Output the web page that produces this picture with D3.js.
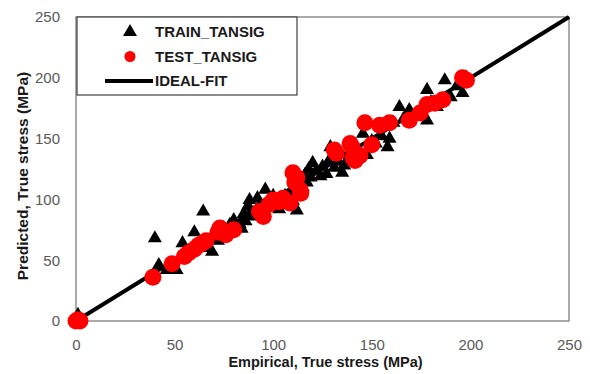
<!DOCTYPE html>
<html>
<head>
<meta charset="utf-8">
<script src="https://cdn.jsdelivr.net/npm/d3@7"></script>
<style>
  body { margin: 0; background: #fff; }
  text { font-family: "Liberation Sans", Arial, sans-serif; }
</style>
</head>
<body>
<div id="chart"></div>
<script>
// [empirical, predicted] in MPa
const trainTansig = [
  [0, 0], [1, 5], [2, 1],
  [40, 68], [42, 46], [46, 42], [51, 42], [54, 64], [57, 55], [60, 73], [64.5, 90],
  [66, 60], [69, 57], [72, 66], [75, 72], [78, 79], [80, 83], [83, 80], [84, 76],
  [85, 88], [86, 82], [87, 94], [88, 99.5], [89, 90], [90, 86], [92, 101], [93, 95],
  [95, 92], [96, 108], [98, 97], [100, 103], [101, 97], [103, 92], [104, 100],
  [106, 103], [107, 96], [108, 104], [110, 99], [110, 108], [112, 91], [113, 112],
  [115, 110], [116, 120], [117, 114], [118, 125], [119, 118], [120, 130], [122, 124],
  [124, 119], [125, 127], [127, 121], [128, 131], [129, 143], [131, 126], [133, 131],
  [135, 122], [136, 128], [138, 138], [142, 140], [145.5, 154], [147.5, 136.5],
  [150, 148], [152, 146], [155, 152], [158, 143], [159, 150], [161, 163], [164, 176],
  [166, 166], [169, 173.5], [172, 168], [175, 172], [178, 165], [178, 190], [180, 180],
  [183, 176], [187, 198], [190, 184], [193, 193], [196, 187.5], [198, 200]
];

const testTansig = [
  [0, 0], [1, 1], [2, 0],
  [39, 36], [48.7, 47], [55, 53], [57, 56], [60, 59], [62, 62], [64, 64], [66, 66],
  [72, 73], [73, 76.5], [76, 71], [80, 75], [93, 90], [95, 86], [98, 96], [100, 99.5],
  [103, 98], [105, 101], [108.5, 97], [110, 122], [111, 114], [112, 118], [113.6, 108],
  [114, 105], [131, 140.6], [132, 138], [139, 146], [140, 143], [140.5, 134],
  [141.5, 132], [144, 136], [146.5, 163], [150, 145], [154, 161], [159, 163],
  [169, 165], [174.5, 171], [178, 178], [182, 179], [186, 182], [196, 200], [198, 198]
];

const idealFit = [[0, 0], [250, 250]];
const ticks = [0, 50, 100, 150, 200, 250];
const legendItems = ["TRAIN_TANSIG", "TEST_TANSIG", "IDEAL-FIT"];

const margin = {top: 17, right: 21, bottom: 53, left: 76},
      width = 590 - margin.left - margin.right,
      height = 374 - margin.top - margin.bottom;

const svg = d3.select("#chart")
  .append("svg")
  .attr("width", 590)
  .attr("height", 374)
  .append("g")
  .attr("transform", `translate(${margin.left},${margin.top})`);

const x = d3.scaleLinear().domain([0, 250]).range([0, width]);
const y = d3.scaleLinear().domain([0, 250]).range([height, 0]);

// axes (labels only, Excel style)
const xAxis = svg.append("g")
  .attr("transform", `translate(0,${height})`)
  .call(d3.axisBottom(x).tickValues(ticks).tickSize(0).tickPadding(18));
const yAxis = svg.append("g")
  .call(d3.axisLeft(y).tickValues(ticks).tickSize(0).tickPadding(16));

[xAxis, yAxis].forEach(g => {
  g.select(".domain").remove();
  g.selectAll("text")
    .style("font-family", "'Liberation Sans', Arial, sans-serif")
    .style("font-size", "15px")
    .attr("fill", "#595959");
});

svg.append("rect")
  .attr("width", width)
  .attr("height", height)
  .attr("fill", "none")
  .attr("stroke", "#7f7f7f")
  .attr("stroke-width", 1.3);

const line = d3.line().x(d => x(d[0])).y(d => y(d[1]));

svg.append("path")
  .datum(idealFit)
  .attr("d", line)
  .attr("stroke", "#000")
  .attr("stroke-width", 4)
  .attr("fill", "none");

const tri = d3.symbol().type(d3.symbolTriangle).size(85);

svg.selectAll(".train")
  .data(trainTansig)
  .enter()
  .append("path")
  .attr("class", "train")
  .attr("d", tri)
  .attr("transform", d => `translate(${x(d[0])},${y(d[1])})`)
  .attr("fill", "#000");

svg.selectAll(".test")
  .data(testTansig)
  .enter()
  .append("circle")
  .attr("class", "test")
  .attr("cx", d => x(d[0]))
  .attr("cy", d => y(d[1]))
  .attr("r", 8.5)
  .attr("fill", "#ff0000");

// legend
const legend = svg.append("g").attr("transform", "translate(1,0)");
legend.append("rect")
  .attr("width", 220)
  .attr("height", 78)
  .attr("fill", "#fff")
  .attr("stroke", "#404040")
  .attr("stroke-width", 1.2);

legendItems.forEach((name, i) => {
  const cy = 15 + i * 24.5;
  if (i === 0) {
    legend.append("path").attr("d", tri).attr("transform", `translate(53,${cy})`).attr("fill", "#000");
  } else if (i === 1) {
    legend.append("circle").attr("cx", 53).attr("cy", cy).attr("r", 5.5).attr("fill", "#ff0000");
  } else {
    legend.append("line")
      .attr("x1", 28).attr("x2", 76)
      .attr("y1", cy).attr("y2", cy)
      .attr("stroke", "#000").attr("stroke-width", 4);
  }
  legend.append("text")
    .attr("x", 78)
    .attr("y", cy)
    .attr("dy", "0.36em")
    .style("font-size", "15px")
    .style("font-weight", "bold")
    .attr("fill", "#1a1a1a")
    .text(name);
});

// axis titles
svg.append("text")
  .attr("x", 249.5)
  .attr("y", height + 46)
  .attr("text-anchor", "middle")
  .style("font-size", "14.5px")
  .style("font-weight", "bold")
  .attr("fill", "#1a1a1a")
  .text("Empirical, True stress (MPa)");

svg.append("text")
  .attr("transform", "rotate(-90)")
  .attr("x", -159)
  .attr("y", -48)
  .attr("text-anchor", "middle")
  .style("font-size", "15.5px")
  .style("font-weight", "bold")
  .attr("fill", "#1a1a1a")
  .text("Predicted, True stress (MPa)");
</script>
</body>
</html>
